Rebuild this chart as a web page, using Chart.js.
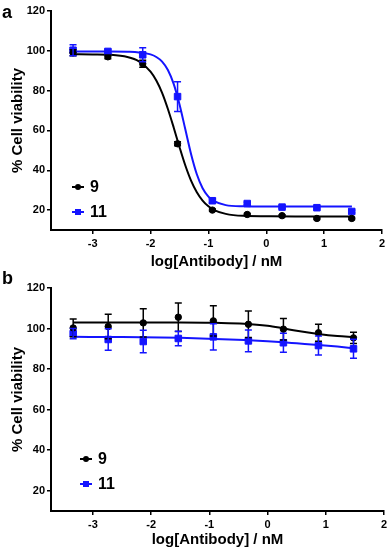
<!DOCTYPE html>
<html>
<head>
<meta charset="utf-8">
<script src="https://cdn.jsdelivr.net/npm/chart.js@4"></script>
<style>
  body { margin: 0; background: #fff; font-family: "Liberation Sans", Arial, sans-serif; }
  .panel { position: absolute; left: 0; width: 390px; }
  .tag { position: absolute; font-weight: bold; font-size: 18px; color: #000; }
  .leg { position: absolute; font-weight: bold; font-size: 16px; line-height: 16px; }
  .leg .mk { position: absolute; top: 7px; width: 12px; height: 2px; }
  .leg .dot { position: absolute; left: 3px; top: -2px; width: 6px; height: 6px; }
  .leg .txt { position: absolute; left: 18px; top: 0; }
</style>
</head>
<body>
<div class="panel" style="top:0;height:272px"><canvas id="chartA" width="390" height="272"></canvas></div>
<div class="panel" style="top:270px;height:280px"><canvas id="chartB" width="390" height="280"></canvas></div>
<div class="tag" style="left:2px;top:2px">a</div>
<div class="tag" style="left:2px;top:268px">b</div>

<div class="leg" style="left:72px;top:179px"><div class="mk" style="background:#000"><div class="dot" style="background:#000;border-radius:50%"></div></div><span class="txt">9</span></div>
<div class="leg" style="left:72px;top:204px"><div class="mk" style="background:#1414ff"><div class="dot" style="background:#1414ff"></div></div><span class="txt">11</span></div>
<div class="leg" style="left:80px;top:451px"><div class="mk" style="background:#000"><div class="dot" style="background:#000;border-radius:50%"></div></div><span class="txt">9</span></div>
<div class="leg" style="left:80px;top:476px"><div class="mk" style="background:#1414ff"><div class="dot" style="background:#1414ff"></div></div><span class="txt">11</span></div>

<script>
// log concentrations (nM) used in both panels
const conc = [-3.339, -2.737, -2.135, -1.533, -0.931, -0.329, 0.273, 0.875, 1.477];

// panel a - measured points with error
const aBlack = [99.0, 97.0, 93.5, 53.3, 20.0, 17.8, 17.2, 15.8, 15.8];
const aBlackErr = [1.5, 1.0, 1.8, 1.0, 0.6, 0.5, 0.5, 0.5, 0.5];
const aBlue = [100.3, 99.7, 98.0, 77.0, 24.7, 23.3, 21.5, 21.2, 19.3];
const aBlueErr = [2.8, 1.0, 3.5, 7.5, 1.0, 0.6, 0.6, 0.6, 0.6];

// panel a - fitted curves
const aCurveX = [-3.34, -3.0, -2.7, -2.4, -2.2, -2.0, -1.9, -1.8, -1.7, -1.6, -1.5, -1.4, -1.3, -1.2, -1.1, -1.0, -0.9, -0.7, -0.4, 0, 0.5, 1.0, 1.48];
const aBlackFit = [98.3, 98.2, 98.0, 96.9, 94.7, 89.6, 85.1, 78.9, 70.8, 61.5, 51.7, 42.5, 34.8, 29.0, 24.8, 21.9, 20.0, 18.1, 17.1, 16.9, 16.8, 16.8, 16.8];
const aBlueFit = [99.6, 99.6, 99.6, 99.5, 99.2, 98.2, 96.9, 94.6, 90.4, 83.4, 73.2, 60.7, 48.2, 38.0, 31.0, 26.8, 24.5, 22.5, 21.9, 21.8, 21.8, 21.8, 21.8];

// panel b - measured points with error
const bBlack = [100.3, 101.0, 102.8, 105.6, 103.8, 102.1, 99.7, 97.9, 95.4];
const bBlackErr = [4.4, 6.0, 7.0, 7.0, 7.5, 6.5, 5.3, 4.2, 2.8];
const bBlue = [97.5, 94.6, 93.6, 95.1, 95.9, 93.9, 93.0, 91.6, 90.0];
const bBlueErr = [2.5, 5.3, 5.6, 3.6, 6.5, 5.4, 4.7, 4.7, 4.7];

// panel b - fitted curves
const bCurveX = [-3.34, -2.5, -1.5, -0.9, -0.4, 0, 0.27, 0.5, 0.875, 1.2, 1.48];
const bBlackFit = [103.0, 103.0, 103.0, 102.8, 102.4, 101.4, 100.1, 98.9, 97.3, 96.3, 95.8];
const bBlueFit = [95.9, 95.8, 95.4, 94.9, 94.3, 93.7, 93.2, 92.7, 91.9, 91.1, 90.3];

const xTicks = [-3, -2, -1, 0, 1, 2];
const yTicks = [20, 40, 60, 80, 100, 120];

const BLACK = '#000000';
const BLUE = '#1414ff';

function pts(xs, ys) {
    return xs.map((x, i) => ({ x: x, y: ys[i] }));
}

const errorBars = {
    id: 'errorBars',
    afterDatasetsDraw(chart) {
        const ctx = chart.ctx;
        const xs = chart.scales.x, ys = chart.scales.y;
        chart.data.datasets.forEach(ds => {
            if (!ds.errors) return;
            ctx.save();
            ctx.strokeStyle = ds.borderColor;
            ctx.lineWidth = 1.5;
            ds.data.forEach((p, i) => {
                const e = ds.errors[i];
                const px = xs.getPixelForValue(p.x);
                const top = ys.getPixelForValue(p.y + e);
                const bot = ys.getPixelForValue(p.y - e);
                ctx.beginPath();
                ctx.moveTo(px, top); ctx.lineTo(px, bot);
                ctx.moveTo(px - 3.5, top); ctx.lineTo(px + 3.5, top);
                ctx.moveTo(px - 3.5, bot); ctx.lineTo(px + 3.5, bot);
                ctx.stroke();
            });
            ctx.restore();
        });
    }
};

function makeChart(id, cfg) {
    const tickFont = { family: 'Liberation Sans', size: 11, weight: 'bold' };
    const titleFont = { family: 'Liberation Sans', size: 15, weight: 'bold' };
    new Chart(document.getElementById(id), {
        type: 'scatter',
        data: {
            datasets: [
                { type: 'line', data: pts(cfg.curveX, cfg.blackFit), borderColor: BLACK, borderWidth: 2, pointRadius: 0, cubicInterpolationMode: 'monotone', order: 3 },
                { type: 'line', data: pts(cfg.curveX, cfg.blueFit), borderColor: BLUE, borderWidth: 2, pointRadius: 0, cubicInterpolationMode: 'monotone', order: 3 },
                { data: pts(conc, cfg.black), errors: cfg.blackErr, borderColor: BLACK, backgroundColor: BLACK, pointStyle: 'circle', pointRadius: 3.2, order: 1 },
                { data: pts(conc, cfg.blue), errors: cfg.blueErr, borderColor: BLUE, backgroundColor: BLUE, pointStyle: 'rect', pointRadius: 4.6, order: 2 }
            ]
        },
        options: {
            responsive: false,
            animation: false,
            events: [],
            layout: { padding: { left: 0, right: cfg.padRight, top: cfg.padTop, bottom: 0 } },
            plugins: { legend: { display: false }, tooltip: { enabled: false } },
            scales: {
                x: {
                    type: 'linear', min: -3.72, max: 2,
                    afterBuildTicks: s => { s.ticks = xTicks.map(v => ({ value: v })); },
                    afterFit: s => { s.height = cfg.xHeight; },
                    grid: { drawOnChartArea: false, drawTicks: true, tickLength: 4, color: BLACK, lineWidth: 1.5 },
                    border: { color: BLACK, width: 2 },
                    ticks: { color: BLACK, font: tickFont, padding: 3, maxRotation: 0 },
                    title: { display: true, text: 'log[Antibody] / nM', color: BLACK, font: titleFont, padding: { top: 0, bottom: cfg.xTitlePad } }
                },
                y: {
                    type: 'linear', min: 10, max: 120,
                    afterBuildTicks: s => { s.ticks = yTicks.map(v => ({ value: v })); },
                    afterFit: s => { s.width = 51; },
                    grid: { drawOnChartArea: false, drawTicks: true, tickLength: 4, color: BLACK, lineWidth: 1.5 },
                    border: { color: BLACK, width: 2 },
                    ticks: { color: BLACK, font: tickFont, padding: 2 },
                    title: { display: true, text: '% Cell viability', color: BLACK, font: titleFont, padding: { top: 9, bottom: 0 } }
                }
            }
        },
        plugins: [errorBars]
    });
}

makeChart('chartA', {
    curveX: aCurveX, blackFit: aBlackFit, blueFit: aBlueFit,
    black: aBlack, blackErr: aBlackErr, blue: aBlue, blueErr: aBlueErr,
    padRight: 8, padTop: 11, xHeight: 42, xTitlePad: 1
});

makeChart('chartB', {
    curveX: bCurveX, blackFit: bBlackFit, blueFit: bBlueFit,
    black: bBlack, blackErr: bBlackErr, blue: bBlue, blueErr: bBlueErr,
    padRight: 4, padTop: 18, xHeight: 39, xTitlePad: 1
});
</script>
</body>
</html>
